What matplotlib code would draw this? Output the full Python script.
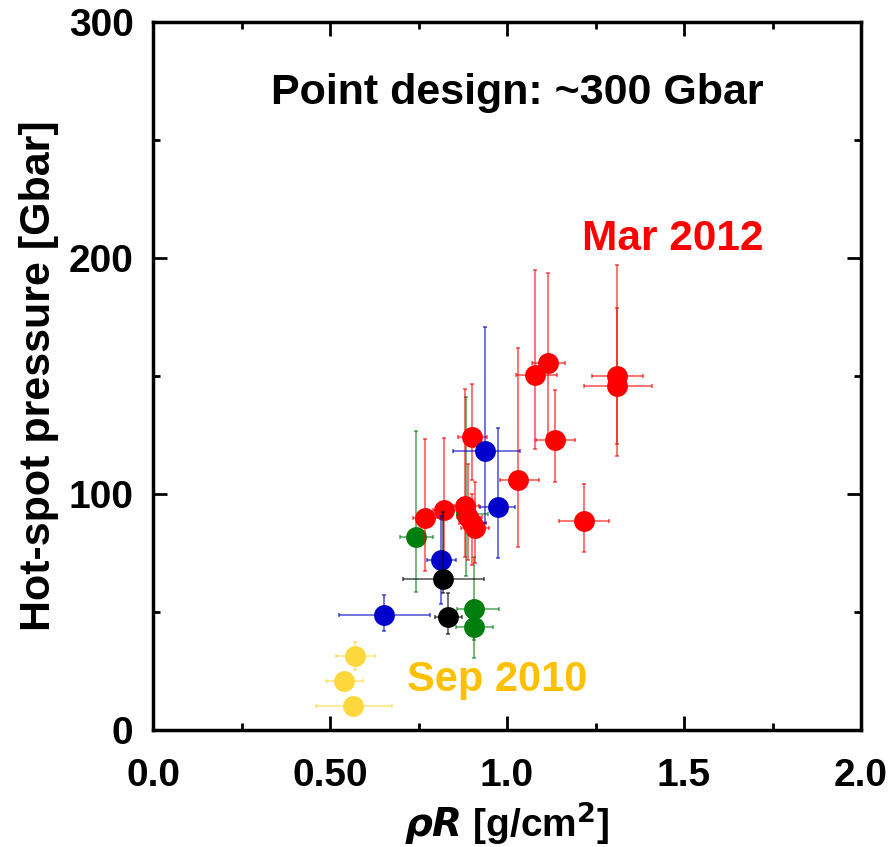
import numpy as np
import matplotlib
matplotlib.use("Agg")
import matplotlib.pyplot as plt
from matplotlib.ticker import MultipleLocator, FixedLocator, FixedFormatter

plt.rcParams['font.family'] = ['Liberation Sans', 'DejaVu Sans']
plt.rcParams['font.weight'] = 'bold'

# shot data: rhoR [g/cm2], pressure [Gbar], and error bar bounds
red_x = [1.311, 1.311, 1.116, 1.079, 1.136, 0.901, 1.031, 1.218, 0.822, 0.768, 0.881, 0.890, 0.900, 0.909]
red_y = [150.0, 145.8, 155.5, 150.4, 122.9, 124.2, 105.9, 88.6, 93.2, 89.8, 94.9, 90.4, 87.6, 85.7]
red_xlo = [1.239, 1.218, 1.071, 1.025, 1.082, 0.862, 0.980, 1.148, 0.790, 0.735, 0.850, 0.860, 0.865, 0.870]
red_xhi = [1.383, 1.411, 1.164, 1.140, 1.193, 0.944, 1.091, 1.289, 0.860, 0.810, 0.920, 0.930, 0.940, 0.950]
red_ylo = [116, 121, 125, 119, 105, 106, 77.4, 75.3, 67, 67.4, 73.4, 72, 70, 70.8]
red_yhi = [197, 179, 193.5, 195, 144, 146.6, 161.7, 104.2, 123.6, 123.2, 144.5, 112.6, 100, 105]

blue_x = [0.939, 0.975, 0.814, 0.653]
blue_y = [118.2, 94.6, 71.9, 48.7]
blue_xlo = [0.847, 0.924, 0.773, 0.526]
blue_xhi = [1.037, 1.023, 0.857, 0.782]
blue_ylo = [87.6, 73, 53.4, 42.1]
blue_yhi = [170.6, 127.8, 90.8, 57.2]

black_x = [0.820, 0.832]
black_y = [64.1, 47.7]
black_xlo = [0.707, 0.797]
black_xhi = [0.935, 0.872]
black_ylo = [58, 40.7]
black_yhi = [92.5, 57.9]

green_x = [0.885, 0.742, 0.908, 0.908]
green_y = [91.5, 81.6, 51.3, 43.5]
green_xlo = [0.858, 0.698, 0.858, 0.856]
green_xhi = [0.947, 0.790, 0.976, 0.961]
green_ylo = [65.3, 58.3, 38, 30.4]
green_yhi = [141.2, 126.7, 73.4, 55]

yellow_x = [0.572, 0.540, 0.565]
yellow_y = [31.5, 20.6, 10.2]
yellow_xlo = [0.518, 0.489, 0.460]
yellow_xhi = [0.627, 0.594, 0.674]
yellow_ylo = [25.4, 18, 8]
yellow_yhi = [37.4, 23, 12.5]

xtick_vals = [0.0, 0.5, 1.0, 1.5, 2.0]
xtick_labels = ['0.0', '0.50', '1.0', '1.5', '2.0']


def draw_series(ax, x, y, xlo, xhi, ylo, yhi, color, zorder):
    x = np.array(x)
    y = np.array(y)
    xerr = [x - np.array(xlo), np.array(xhi) - x]
    yerr = [y - np.array(ylo), np.array(yhi) - y]
    ax.errorbar(x, y, xerr=xerr, yerr=yerr, fmt='none', ecolor=color,
                elinewidth=1.4, capsize=1.5, capthick=1.4, alpha=0.55, zorder=zorder)
    ax.plot(x, y, 'o', color=color, markersize=15, markeredgewidth=0, zorder=zorder + 1)


fig = plt.figure(figsize=(8.88, 8.47), dpi=100)
ax = fig.add_axes([153 / 888, 1 - 730 / 847, 708 / 888, 708 / 847])

draw_series(ax, yellow_x, yellow_y, yellow_xlo, yellow_xhi, yellow_ylo, yellow_yhi, '#FDD83D', 2)
draw_series(ax, green_x, green_y, green_xlo, green_xhi, green_ylo, green_yhi, '#007F0E', 3)
draw_series(ax, red_x, red_y, red_xlo, red_xhi, red_ylo, red_yhi, '#FF0000', 5)
draw_series(ax, blue_x, blue_y, blue_xlo, blue_xhi, blue_ylo, blue_yhi, '#0000CC', 7)
draw_series(ax, black_x, black_y, black_xlo, black_xhi, black_ylo, black_yhi, '#000000', 9)

ax.set_xlim(0, 2.0)
ax.set_ylim(0, 300)

ax.xaxis.set_major_locator(FixedLocator(xtick_vals))
ax.xaxis.set_major_formatter(FixedFormatter(xtick_labels))
ax.xaxis.set_minor_locator(MultipleLocator(0.25))
ax.yaxis.set_major_locator(MultipleLocator(100))
ax.yaxis.set_minor_locator(MultipleLocator(50))

ax.tick_params(which='both', direction='in', top=True, right=True, width=2)
ax.tick_params(which='major', length=10, labelsize=28)
ax.tick_params(axis='x', which='major', pad=20)
ax.tick_params(axis='y', which='major', pad=14)
ax.tick_params(which='minor', length=5)
for lab in ax.get_xticklabels() + ax.get_yticklabels():
    lab.set_fontweight('bold')
for sp in ax.spines.values():
    sp.set_linewidth(2.5)

ax.set_xlabel(r'$\rho\mathit{R}$ [g/cm$^\mathbf{2}$]', fontsize=28, fontweight='bold', labelpad=4)
ax.set_ylabel('Hot-spot pressure [Gbar]', fontsize=31, fontweight='bold', labelpad=7)

ax.text(1.03, 270, 'Point design: ~300 Gbar', fontsize=31, fontweight='bold',
        ha='center', va='center', color='black')
ax.text(1.468, 208, 'Mar 2012', fontsize=30.5, fontweight='bold',
        ha='center', va='center', color='#FF0000')
ax.text(0.972, 21, 'Sep 2010', fontsize=30, fontweight='bold',
        ha='center', va='center', color='#FFC000')

fig.savefig('out.png', dpi=100)
